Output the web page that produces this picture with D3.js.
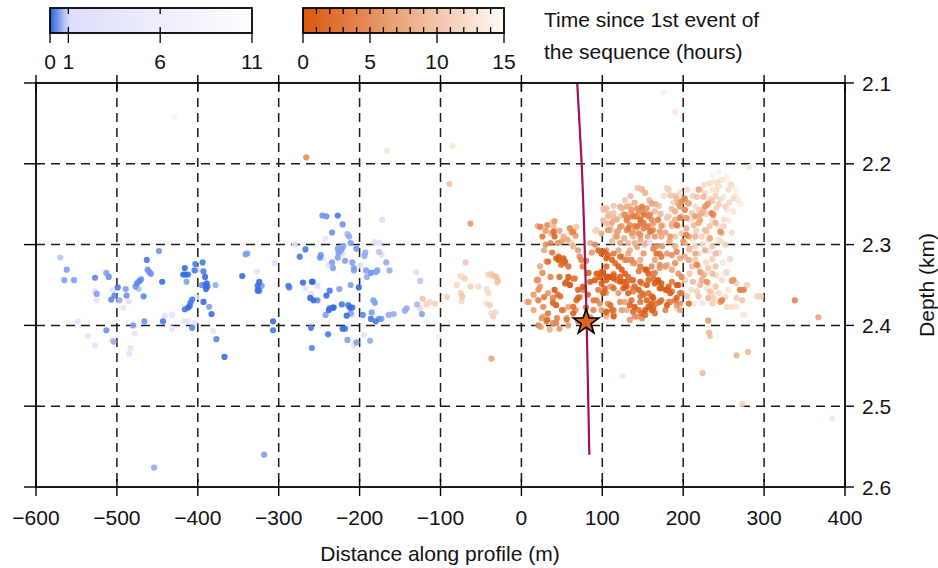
<!DOCTYPE html>
<html><head><meta charset="utf-8">
<script src="https://cdn.jsdelivr.net/npm/d3@7"></script>
<style>body{margin:0;background:#fff}svg{display:block}text{font-family:"Liberation Sans",Arial,Helvetica,sans-serif;fill:#111}</style>
</head><body>
<svg id="chart" width="938" height="568"></svg>
<script>
// ---------- data ----------
const xTicks = [-600,-500,-400,-300,-200,-100,0,100,200,300,400];
const yTicks = [2.1,2.2,2.3,2.4,2.5,2.6];
const blueBarTicks = [0,1,6,11];
const orangeBarTicks = [0,5,10,15];
const legendTitle = ["Time since 1st event of","the sequence (hours)"];
const xTitle = "Distance along profile (m)";
const yTitle = "Depth (km)";

// [distance m, depth km, hours] - earlier sequence (blue)
const blueEvents = [
[-570,2.316,0.8],[-562,2.331,0.5],[-565,2.344,0.5],[-553,2.344,0.5],[-527,2.341,0.3],[-513,2.335,0.5],[-510,2.340,0.4],
[-527,2.358,2],[-525,2.361,0.5],[-525,2.369,3],[-507,2.368,0.3],[-503,2.363,0.3],[-499,2.353,0.2],[-505,2.356,3],
[-497,2.369,0.6],[-492,2.378,3],[-489,2.355,0.5],[-488,2.363,0.4],[-485,2.370,3],[-477,2.352,0.4],[-475,2.348,0.3],
[-472,2.345,0.3],[-470,2.343,0.4],[-473,2.355,0.8],[-467,2.364,0.3],[-463,2.319,0.2],[-462,2.331,0.4],[-460,2.334,0.4],
[-458,2.336,0.4],[-448,2.308,0.4],[-444,2.346,0.1],[-441,2.388,3],[-432,2.387,3],[-443,2.395,0.2],[-432,2.404,3],
[-466,2.395,0.4],[-480,2.400,0.5],[-478,2.410,3],[-513,2.406,0.4],[-536,2.413,3],[-527,2.425,3],[-506,2.418,3],
[-504,2.420,0.6],[-483,2.428,3],[-485,2.435,3],[-548,2.395,3],[-418,2.395,3],[-412,2.395,2.5],[-407,2.403,0.3],
[-404,2.397,3],[-416,2.329,0.1],[-418,2.337,0.1],[-415,2.337,0.1],[-412,2.337,0.2],[-414,2.346,0.5],[-403,2.324,0.2],
[-404,2.332,0.2],[-394,2.322,0.2],[-393,2.333,0.2],[-400,2.331,3],[-391,2.340,0.1],[-389,2.348,0.1],[-390,2.355,0.1],
[-391,2.350,0.2],[-395,2.350,0.4],[-388,2.352,0.2],[-378,2.350,0.6],[-345,2.339,0.1],[-341,2.312,0.5],[-407,2.368,0.2],
[-409,2.372,0.2],[-410,2.376,0.2],[-412,2.378,0.1],[-416,2.380,0.2],[-402,2.365,3],[-393,2.371,0.1],[-386,2.377,0.5],
[-383,2.386,0.1],[-381,2.407,3],[-377,2.417,0.3],[-367,2.439,0.1],
[-246,2.264,0.4],[-241,2.265,0.4],[-227,2.264,0.2],[-221,2.275,0.4],[-172,2.269,1],[-234,2.285,0.4],[-242,2.293,3],
[-215,2.287,0.7],[-213,2.290,0.6],[-211,2.298,0.5],[-280,2.300,2],[-267,2.306,0.2],[-274,2.315,0.2],[-227,2.305,0.5],
[-224,2.308,0.5],[-222,2.305,0.5],[-220,2.302,0.6],[-226,2.310,0.5],[-221,2.311,2],[-204,2.305,0.4],[-227,2.316,0.5],
[-218,2.320,0.5],[-248,2.313,0.4],[-249,2.316,0.4],[-245,2.317,3],[-234,2.322,0.5],[-239,2.325,3],[-233,2.329,0.5],
[-209,2.322,0.5],[-207,2.329,0.5],[-207,2.332,0.5],[-199,2.326,3],[-193,2.310,0.6],[-194,2.314,0.6],[-181,2.297,1.5],
[-175,2.298,1.5],[-176,2.309,0.8],[-173,2.312,1.5],[-167,2.322,0.6],[-163,2.332,0.6],[-192,2.332,0.5],[-186,2.335,0.4],
[-178,2.332,0.5],[-180,2.334,0.5],[-191,2.340,0.6],[-339,2.311,0.5],[-305,2.323,2],[-327,2.333,3],[-324,2.346,0.1],
[-326,2.351,0.1],[-326,2.357,0.1],[-324,2.357,0.2],[-321,2.351,0.5],[-288,2.351,0.2],[-287,2.353,0.3],[-270,2.347,0.1],
[-259,2.346,0.1],[-258,2.346,0.1],[-267,2.354,3],[-252,2.351,2],[-260,2.361,3],[-237,2.357,0.2],[-241,2.363,0.1],
[-225,2.355,0.5],[-211,2.350,0.5],[-201,2.353,0.1],[-261,2.366,0.1],[-257,2.369,0.1],[-252,2.369,0.4],[-237,2.379,0.2],
[-233,2.378,0.1],[-232,2.378,0.1],[-238,2.381,0.1],[-242,2.387,0.5],[-222,2.374,0.2],[-214,2.375,0.2],[-212,2.378,0.1],
[-209,2.378,0.1],[-211,2.385,0.5],[-216,2.388,0.1],[-209,2.387,2],[-196,2.387,0.3],[-183,2.369,0.5],[-181,2.372,0.5],
[-185,2.384,0.5],[-186,2.392,0.2],[-180,2.395,0.2],[-176,2.392,0.4],[-173,2.392,0.5],[-164,2.387,0.6],[-158,2.386,0.6],
[-144,2.382,0.6],[-142,2.379,0.6],[-129,2.374,0.7],[-123,2.386,0.5],[-130,2.334,1.5],[-125,2.345,0.8],[-307,2.395,0.1],
[-307,2.406,0.2],[-260,2.403,0.2],[-239,2.411,0.2],[-221,2.404,0.1],[-218,2.404,0.2],[-215,2.418,0.5],[-204,2.421,0.5],
[-207,2.425,2],[-195,2.412,3],[-187,2.419,0.6],[-259,2.428,0.3],
[-429,2.142,8],[-318,2.560,0.5],[-454,2.576,0.6],[159,2.297,2]
];

// [distance m, depth km, hours] - main sequence (orange)
const orangeEvents = [
[-69,2.322,10],[-76,2.339,12],[-73,2.340,12],[-70,2.342,11],[-80,2.350,12],[-63,2.352,11],[-53,2.352,12],[-41,2.337,11],
[-37,2.336,12],[-36,2.338,10],[-31,2.340,9],[-29,2.345,10],[-30,2.347,11],[-43,2.355,12],[-41,2.360,12],[-75,2.360,11],
[-73,2.364,10],[-74,2.370,12],[-43,2.373,12],[-39,2.375,11],[-37,2.385,12],[-35,2.389,11],[-32,2.384,12],[-92,2.365,11],
[-107,2.373,11],[-113,2.371,12],[-117,2.374,11],[-122,2.367,10],[-125,2.379,12],[-103,2.414,14],[7,2.371,9],[20,2.368,11],
[20,2.343,10],[-266,2.192,5],[-166,2.184,13],[-85,2.178,13],[-89,2.225,10],[-63,2.274,6],[-37,2.441,7],[125,2.463,13],
[175,2.112,14],[190,2.136,13],[282,2.204,13],[273,2.497,11],[384,2.515,13],[338,2.369,4],[367,2.390,7],[266,2.437,8],
[280,2.433,9],[224,2.459,9],[231,2.394,6],[232,2.409,9],[233,2.413,10],[260,2.345,6],[272,2.356,5],[294,2.364,11],
[296,2.364,12],[275,2.387,13],
// left lobe
[23,2.278,4],[26,2.290,3],[32,2.276,5],[41,2.271,6],[40,2.284,2],[41,2.290,1.5],[36,2.298,4],[45,2.298,5],[60,2.280,5],
[64,2.284,4],[67,2.289,6],[57,2.294,7],[28,2.307,7],[33,2.321,2],[43,2.317,1],[46,2.319,0.5],[52,2.317,1],[54,2.321,1],
[49,2.325,3],[58,2.327,2],[64,2.302,8],[70,2.307,6],[74,2.319,4],[76,2.327,3],[58,2.340,0.5],[54,2.348,1],[60,2.350,2],
[64,2.342,3],[41,2.356,0.3],[45,2.362,2],[39,2.366,4],[33,2.360,6],[21,2.344,7],[21,2.356,5],[9,2.371,6],[21,2.369,4],
[27,2.377,5],[33,2.385,3],[32,2.393,2],[25,2.391,6],[21,2.400,5],[24,2.402,7],[39,2.372,1],[43,2.375,0.5],[50,2.381,3],
[56,2.391,6],[43,2.397,4],[64,2.385,1],[68,2.369,2],[72,2.365,4],[76,2.352,0.5],[70,2.356,1],[58,2.377,7],[67,2.381,5],
[82,2.362,1],[89,2.369,3],[91,2.344,0.5],[93,2.336,0.5],[97,2.340,0.3],[101,2.336,0.5],[105,2.344,0.5],[107,2.340,0.3],
[99,2.348,1],[103,2.354,2],[95,2.356,3],[93,2.369,4],[101,2.360,1],[107,2.373,5],[112,2.381,2],[114,2.389,1],[105,2.385,6],
[99,2.381,7],[89,2.381,4],[85,2.346,0.5],
[20,2.277,8],[24,2.278,9],[39,2.272,10],[40,2.278,9],[37,2.286,8],[60,2.280,9],[62,2.285,7],[50,2.296,6],[31,2.321,6],
[23,2.327,8],[46,2.315,1],[52,2.323,2],[72,2.315,5],[56,2.346,1],[60,2.350,0.5],[66,2.342,3],[48,2.364,2],[70,2.366,1],
[76,2.356,4],[64,2.377,2],[52,2.381,6],[44,2.391,4],[31,2.395,3],[27,2.389,7],[19,2.344,5],[23,2.352,6],[15,2.381,7],
[39,2.397,5],[56,2.393,3],[68,2.278,10],[62,2.298,11],[91,2.283,12],[99,2.286,8],[93,2.282,11],
[30,2.283,6],[47,2.283,7],[52,2.290,8],[30,2.300,5],[38,2.310,3],[26,2.335,5],[36,2.340,4],[47,2.340,2],[28,2.365,3],
[15,2.362,6],[47,2.404,6],[58,2.400,7],[35,2.405,8],[70,2.395,4],[80,2.378,2],[85,2.390,5],[83,2.335,1],[80,2.320,3],
[87,2.310,6],[85,2.298,8],
// middle deep band
[91,2.300,5],[95,2.307,1],[99,2.311,0.5],[103,2.309,2],[107,2.313,1],[112,2.319,1],[116,2.323,2],[120,2.327,1],[124,2.331,0.5],
[128,2.336,1],[132,2.340,2],[136,2.344,3],[122,2.340,5],[114,2.336,6],[128,2.352,4],[132,2.360,1],[136,2.369,2],[140,2.377,0.5],
[145,2.381,3],[149,2.385,1],[153,2.381,0.3],[157,2.377,0.5],[161,2.381,1],[165,2.385,2],[161,2.364,1],[157,2.360,3],
[149,2.360,4],[145,2.356,0.5],[140,2.352,2],[149,2.348,5],[157,2.344,2],[165,2.348,0.5],[169,2.344,0.3],[173,2.348,1],
[171,2.354,0.5],[178,2.356,2],[182,2.352,1],[184,2.360,0.5],[186,2.346,3],[194,2.350,1],[196,2.360,4],[190,2.369,3],
[182,2.371,6],[173,2.369,2],[167,2.373,3],[161,2.373,1],[165,2.335,4],[161,2.327,5],[157,2.336,1],[153,2.331,0.5],
[145,2.333,3],[140,2.323,6],[136,2.319,4],[128,2.319,6],[124,2.315,5],[120,2.307,7],[132,2.311,7],[147,2.319,8],
[165,2.319,7],[171,2.325,5],[178,2.327,6],[186,2.331,7],[194,2.336,6],[198,2.340,4],[207,2.319,7],[196,2.373,5],
[207,2.373,2],[196,2.381,7],[178,2.381,4],[140,2.389,5],[153,2.387,2],[124,2.381,6],[128,2.371,7],[120,2.360,6],[112,2.352,8],
[101,2.334,1],[105,2.327,2],[110,2.340,0.5],[114,2.338,1],[118,2.344,3],[122,2.340,2],[126,2.346,1],[130,2.352,0.5],
[138,2.354,4],[147,2.364,3],[155,2.369,1],[110,2.352,6],[105,2.360,7],[97,2.373,5],[114,2.381,4],[130,2.381,8],
[143,2.389,5],[134,2.393,6],[105,2.389,9],[105,2.307,6],[114,2.311,3],[122,2.315,2],[130,2.319,4],[138,2.323,6],
[147,2.327,3],[155,2.331,2],[163,2.336,5],[134,2.307,8],[143,2.303,7],[151,2.311,6],[155,2.298,8],[147,2.294,7],
[138,2.290,9],[130,2.282,5],[122,2.278,6],[130,2.270,4],[143,2.265,5],[147,2.274,3],[155,2.278,4],[163,2.282,6],
[105,2.274,9],[110,2.282,8],[101,2.270,10],[118,2.290,6],[122,2.298,7],
[101,2.309,1],[105,2.317,0.5],[99,2.334,0.3],[105,2.340,0.2],[114,2.342,0.5],[122,2.346,0.3],[130,2.346,1],[138,2.344,2],
[147,2.346,1],[155,2.350,0.5],[163,2.342,2],[169,2.346,0.3],[173,2.354,1],[180,2.356,0.5],[186,2.358,3],[192,2.350,0.3],
[126,2.354,0.5],[114,2.354,2],[103,2.358,3],[138,2.358,4],[151,2.362,2],[163,2.366,0.5],[171,2.371,2],[180,2.375,1],
[159,2.375,6],[147,2.371,3],[134,2.375,1],[122,2.371,5],[110,2.375,2],[105,2.383,1],[114,2.387,4],[138,2.383,2],
[149,2.391,5],[163,2.379,1],[192,2.366,1],[192,2.375,6],
// upper middle cluster
[105,2.255,9],[114,2.252,10],[124,2.255,8],[134,2.252,9],[128,2.263,5],[132,2.267,4],[136,2.261,6],[140,2.265,3],
[145,2.259,5],[149,2.255,4],[153,2.261,6],[157,2.265,4],[161,2.269,5],[147,2.269,2],[151,2.273,3],[157,2.277,5],
[161,2.283,4],[165,2.290,6],[140,2.277,4],[132,2.280,3],[136,2.286,6],[145,2.286,5],[124,2.277,7],[120,2.283,8],
[112,2.273,7],[107,2.282,6],[116,2.290,9],[149,2.232,9],[153,2.236,8],[145,2.230,10],[161,2.249,7],[165,2.259,9],
[169,2.269,4],[173,2.277,6],[167,2.302,5],[171,2.311,4],[174,2.302,6],[183,2.296,7],[190,2.302,8],[132,2.298,9],
[173,2.290,7],[102,2.257,10],[107,2.265,9],[114,2.261,10],[118,2.269,8],[122,2.265,11],
[143,2.230,11],[149,2.231,10],[130,2.253,8],[136,2.257,6],[143,2.255,5],[149,2.253,4],[155,2.255,6],[159,2.263,5],
[151,2.263,3],[138,2.265,4],[130,2.267,6],[126,2.263,8],[134,2.276,5],[143,2.278,3],[151,2.280,4],[159,2.284,3],
[138,2.284,6],[147,2.288,5],[163,2.274,6],[169,2.270,8],[114,2.267,9],[110,2.280,10],[118,2.284,7],[101,2.255,11],[122,2.253,9],
[135,2.240,9],[128,2.245,10],[140,2.248,8],[158,2.245,9],[166,2.250,8],[172,2.262,9],[178,2.285,7],[184,2.290,6],
[156,2.290,7],[152,2.300,9],[140,2.298,8],[127,2.292,8],[112,2.296,9],[108,2.262,10],
// right pale region
[182,2.232,11],[190,2.240,10],[194,2.249,7],[200,2.244,8],[207,2.249,7],[202,2.257,6],[198,2.265,9],[190,2.269,8],
[182,2.265,10],[186,2.277,9],[194,2.277,11],[207,2.269,12],[211,2.261,10],[215,2.253,12],[219,2.257,11],[223,2.261,8],
[227,2.253,6],[231,2.249,7],[237,2.263,5],[240,2.273,8],[233,2.277,10],[227,2.282,9],[219,2.273,7],[215,2.265,6],
[223,2.290,11],[231,2.294,12],[236,2.302,10],[240,2.311,9],[227,2.307,8],[219,2.311,12],[215,2.302,11],[219,2.232,7],
[227,2.236,12],[236,2.232,13],[242,2.224,12],[248,2.220,13],[254,2.216,14],[260,2.226,12],[264,2.240,13],[271,2.250,14],
[262,2.259,13],[252,2.253,11],[246,2.244,12],[240,2.240,11],[250,2.269,12],[248,2.286,10],[250,2.277,11],[244,2.294,13],
[240,2.327,10],[236,2.336,9],[227,2.336,12],[219,2.327,11],[215,2.319,10],[211,2.327,9],[223,2.344,8],[231,2.348,11],
[240,2.352,10],[248,2.344,12],[252,2.336,13],[236,2.360,12],[242,2.369,13],[236,2.373,11],[231,2.366,9],[219,2.364,10],
[262,2.344,6],[266,2.348,11],[275,2.356,4],[273,2.369,10],[260,2.377,12],[266,2.377,13],[277,2.387,14],[248,2.369,4],
[215,2.290,8],[207,2.290,6],[202,2.298,9],[198,2.286,10],[190,2.290,10],[207,2.307,11],[202,2.315,8],
[233,2.224,12],[239,2.222,13],[246,2.220,13],[253,2.217,14],[258,2.225,13],[241,2.232,12],[221,2.232,11],[217,2.241,10],
[225,2.241,9],[233,2.243,12],[250,2.241,13],[262,2.243,12],[254,2.257,13],[262,2.259,14],[241,2.255,11],[229,2.251,6],
[225,2.257,9],[221,2.263,8],[237,2.263,5],[235,2.261,4],[246,2.284,5],[221,2.270,7],[213,2.276,9],[204,2.280,8],
[229,2.284,10],[233,2.292,7],[246,2.296,12],[180,2.230,11],[184,2.239,10],[192,2.243,9],[198,2.247,5],[202,2.243,4],
[206,2.249,7],[196,2.253,6],[190,2.259,8],[202,2.257,5],[204,2.267,6],[196,2.267,4],[192,2.276,3],[186,2.274,8],
[180,2.267,10],[175,2.276,11],[171,2.284,6],[204,2.288,4],[200,2.296,6],
[163,2.305,4],[167,2.311,2],[173,2.315,3],[180,2.311,6],[186,2.313,5],[192,2.309,4],[196,2.317,7],[190,2.323,5],
[180,2.325,8],[171,2.329,6],[208,2.305,9],[215,2.311,7],[217,2.325,4],[221,2.334,6],[225,2.338,8],[231,2.329,10],
[229,2.346,5],[221,2.350,9],[217,2.358,11],[233,2.358,10],[241,2.338,12],[246,2.371,6],[237,2.366,11],[254,2.334,12],
[262,2.344,8],[270,2.356,4],[266,2.366,11],[279,2.350,11],[291,2.364,12],[274,2.387,13],[254,2.377,12],[213,2.373,13],
[205,2.364,10],[198,2.360,3],[192,2.379,12],[184,2.371,4],
[245,2.228,13],[256,2.232,12],[265,2.232,14],[268,2.245,13],[257,2.248,12],[244,2.250,11],[236,2.246,10],[228,2.262,11],
[236,2.270,12],[243,2.278,13],[256,2.270,13],[260,2.285,12],[252,2.300,11],[244,2.310,12],[236,2.318,11],[228,2.322,12],
[249,2.322,13],[258,2.318,12],[232,2.308,13],[224,2.300,12],[212,2.296,13],[216,2.283,11],[210,2.268,12],[196,2.236,12],
[188,2.248,11],[176,2.240,12],[170,2.252,10],[186,2.256,9],[212,2.240,11],[205,2.232,12],[226,2.226,12],[236,2.214,14],
[244,2.210,14],[229,2.355,13],[244,2.360,12],[256,2.356,13],[252,2.365,12],[224,2.372,13],[210,2.356,12],[202,2.344,11],
[208,2.336,10],[212,2.346,9]
];

const wellTrack = [[69,2.10],[74.5,2.20],[80.7,2.397],[84,2.56]];
const mainshock = [80,2.396];

// ---------- drawing ----------
const svg = d3.select("#chart");
const x = d3.scaleLinear().domain([-600,400]).range([36,845]);
const y = d3.scaleLinear().domain([2.1,2.6]).range([83,487]);
const blueColor = d3.scaleLinear().domain([0,1,11]).range(["#2360de","#dcdcfb","#ffffff"]);
const orangeColor = d3.scaleLinear().domain([0,15]).range(["#d9570e","#fffbf8"]);
const fmt = d3.format("");
const FS = 21;

// grid
const grid = svg.append("g").attr("stroke","#1a1a1a").attr("stroke-width",1.5).attr("stroke-dasharray","9,6");
grid.selectAll("line.v").data(xTicks.slice(1,-1)).join("line")
  .attr("x1",d=>x(d)).attr("x2",d=>x(d)).attr("y1",y(2.1)).attr("y2",y(2.6));
grid.selectAll("line.h").data(yTicks.slice(1,-1)).join("line")
  .attr("x1",x(-600)).attr("x2",x(400)).attr("y1",d=>y(d)).attr("y2",d=>y(d));

// points
const pts = svg.append("g");
const oSorted = orangeEvents.slice().sort((a,b)=>b[2]-a[2]);
pts.selectAll("circle.o").data(oSorted).join("circle").attr("class","o")
  .attr("cx",d=>x(d[0])).attr("cy",d=>y(d[1])).attr("r",3.1)
  .attr("fill",d=>orangeColor(d[2])).attr("fill-opacity",0.9);
const bSorted = blueEvents.slice().sort((a,b)=>b[2]-a[2]);
pts.selectAll("circle.b").data(bSorted).join("circle").attr("class","b")
  .attr("cx",d=>x(d[0])).attr("cy",d=>y(d[1])).attr("r",3.1)
  .attr("fill",d=>blueColor(d[2])).attr("fill-opacity",0.9);

// well track
svg.append("path").datum(wellTrack)
  .attr("d",d3.line().x(d=>x(d[0])).y(d=>y(d[1])).curve(d3.curveMonotoneY))
  .attr("fill","none").attr("stroke","#9e1259").attr("stroke-width",2.2);

// mainshock star
svg.append("path").attr("d",d3.symbol(d3.symbolStar,200)())
  .attr("transform",`translate(${x(mainshock[0])},${y(mainshock[1])})`)
  .attr("fill","#dd6420").attr("stroke","#000").attr("stroke-width",1.6);

// frame
svg.append("rect").attr("x",x(-600)).attr("y",y(2.1)).attr("width",x(400)-x(-600)).attr("height",y(2.6)-y(2.1))
  .attr("fill","none").attr("stroke","#000").attr("stroke-width",1.8);

// axis ticks
const tk = svg.append("g").attr("stroke","#000").attr("stroke-width",1.4);
tk.selectAll("line.b").data(xTicks).join("line").attr("x1",d=>x(d)).attr("x2",d=>x(d)).attr("y1",y(2.6)-8).attr("y2",y(2.6)+9);
tk.selectAll("line.t").data(xTicks).join("line").attr("x1",d=>x(d)).attr("x2",d=>x(d)).attr("y1",y(2.1)-8).attr("y2",y(2.1)+8);
tk.selectAll("line.l").data(yTicks).join("line").attr("x1",x(-600)-12).attr("x2",x(-600)).attr("y1",d=>y(d)).attr("y2",d=>y(d));
tk.selectAll("line.r").data(yTicks).join("line").attr("x1",x(400)).attr("x2",x(400)+9).attr("y1",d=>y(d)).attr("y2",d=>y(d));

svg.append("g").selectAll("text").data(xTicks).join("text")
  .attr("x",d=>x(d)).attr("y",y(2.6)+38).attr("text-anchor","middle").attr("font-size",FS).text(d=>fmt(d));
svg.append("g").selectAll("text").data(yTicks).join("text")
  .attr("x",x(400)+17).attr("y",d=>y(d)+7.5).attr("font-size",FS).text(d=>d.toFixed(1));

svg.append("text").attr("x",440).attr("y",561).attr("text-anchor","middle").attr("font-size",FS).text(xTitle);
svg.append("text").attr("transform","translate(934,285) rotate(-90)").attr("text-anchor","middle").attr("font-size",FS).text(yTitle);

// colour bars
const defs = svg.append("defs");
function gradient(id, scale, max){
  const g = defs.append("linearGradient").attr("id",id).attr("x1","0%").attr("x2","100%").attr("y1","0%").attr("y2","0%");
  d3.range(0,41).forEach(i=>{ const v = max*i/40; g.append("stop").attr("offset",(i/40*100)+"%").attr("stop-color",scale(v)); });
}
gradient("gb", blueColor, 11);
gradient("go", orangeColor, 15);

const bx = d3.scaleLinear().domain([0,11]).range([50,252]);
const ox = d3.scaleLinear().domain([0,15]).range([303,504]);
const barTop = 8, barBot = 33;

function bar(scale, gid, inner, outer){
  const g = svg.append("g");
  g.append("rect").attr("x",scale.range()[0]).attr("y",barTop).attr("width",scale.range()[1]-scale.range()[0]).attr("height",barBot-barTop)
    .attr("fill",`url(#${gid})`).attr("stroke","#000").attr("stroke-width",1.8);
  g.selectAll("line.it").data(inner).join("line").attr("stroke","#000").attr("stroke-width",1.3)
    .attr("x1",d=>scale(d)).attr("x2",d=>scale(d)).attr("y1",barTop).attr("y2",barTop+6);
  g.selectAll("line.ib").data(inner).join("line").attr("stroke","#000").attr("stroke-width",1.3)
    .attr("x1",d=>scale(d)).attr("x2",d=>scale(d)).attr("y1",barBot-6).attr("y2",barBot);
  g.selectAll("line.ot").data(outer).join("line").attr("stroke","#000").attr("stroke-width",1.3)
    .attr("x1",d=>scale(d)).attr("x2",d=>scale(d)).attr("y1",barBot).attr("y2",barBot+10);
  g.selectAll("text").data(outer).join("text").attr("x",d=>scale(d)).attr("y",69).attr("text-anchor","middle")
    .attr("font-size",FS).text(d=>d);
}
bar(bx,"gb",[1,6],blueBarTicks);
bar(ox,"go",d3.range(1,15),orangeBarTicks);

svg.append("g").selectAll("text").data(legendTitle).join("text")
  .attr("x",544).attr("y",(d,i)=>27+i*32).attr("font-size",FS).text(d=>d);
</script>
</body></html>
